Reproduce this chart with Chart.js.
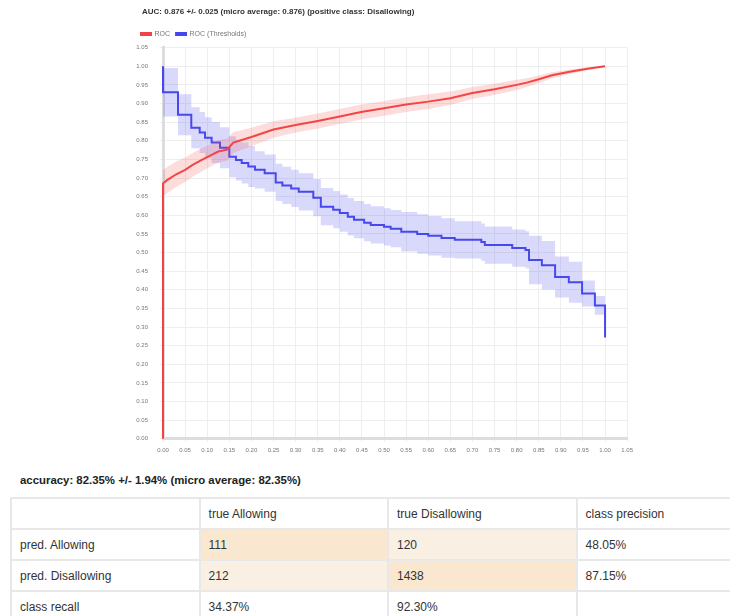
<!DOCTYPE html>
<html>
<head>
<meta charset="utf-8">
<script src="https://cdn.jsdelivr.net/npm/chart.js@4.4.0/dist/chart.umd.min.js"></script>
<style>
  body { margin: 0; background: #fff; width: 730px; height: 616px; overflow: hidden; font-family: "Liberation Sans", Arial, sans-serif; }
  #wrap { position: absolute; left: 130px; top: 0; width: 508px; height: 459px; }
  #acc { position: absolute; left: 20px; top: 474px; font-size: 11.4px; font-weight: bold; color: #222; }
  table { position: absolute; left: 10px; top: 497px; border-collapse: collapse; width: 756px; font-size: 12px; color: #333; }
  td { border: 2px solid #e8e8e8; height: 29px; padding: 0 0 0 8px; width: 180px; }
  .hi { background: #fae7cf; }
  .lo { background: #f9efe2; }
</style>
</head>
<body>
<div id="wrap"><canvas id="roc"></canvas></div>
<div id="acc">accuracy: 82.35% +/- 1.94% (micro average: 82.35%)</div>
<table id="cm"></table>
<script>
// ROC curve (mean) and its spread
const rocX = [0, 0, 0.01, 0.03, 0.05, 0.068, 0.09, 0.11, 0.125, 0.145, 0.159, 0.2, 0.25, 0.3, 0.35, 0.4, 0.448, 0.5, 0.55, 0.6, 0.65, 0.7, 0.75, 0.8, 0.823, 0.85, 0.88, 0.92, 0.96, 1.0]
const rocY = [0, 0.685, 0.695, 0.71, 0.722, 0.736, 0.75, 0.762, 0.771, 0.776, 0.795, 0.81, 0.83, 0.842, 0.853, 0.865, 0.877, 0.887, 0.897, 0.905, 0.914, 0.928, 0.938, 0.95, 0.956, 0.965, 0.976, 0.985, 0.993, 1.0]
const rocErr = [0, 0.035, 0.035, 0.034, 0.033, 0.032, 0.031, 0.03, 0.03, 0.03, 0.028, 0.025, 0.022, 0.02, 0.02, 0.02, 0.02, 0.02, 0.02, 0.02, 0.018, 0.016, 0.015, 0.014, 0.012, 0.01, 0.008, 0.006, 0.004, 0]

// ROC (Thresholds), step curve
const thrX = [0, 0, 0.034, 0.064, 0.083, 0.095, 0.11, 0.129, 0.15, 0.165, 0.178, 0.193, 0.208, 0.23, 0.255, 0.27, 0.29, 0.307, 0.34, 0.357, 0.385, 0.4, 0.418, 0.432, 0.455, 0.47, 0.5, 0.515, 0.539, 0.575, 0.6, 0.63, 0.66, 0.72, 0.728, 0.79, 0.82, 0.828, 0.857, 0.887, 0.918, 0.948, 0.977, 1.0, 1.0]
const thrY = [1.0, 0.93, 0.87, 0.835, 0.822, 0.808, 0.795, 0.781, 0.757, 0.748, 0.74, 0.731, 0.722, 0.713, 0.688, 0.68, 0.672, 0.663, 0.647, 0.623, 0.615, 0.606, 0.596, 0.588, 0.58, 0.574, 0.569, 0.564, 0.556, 0.55, 0.545, 0.539, 0.534, 0.528, 0.52, 0.512, 0.507, 0.48, 0.466, 0.434, 0.42, 0.39, 0.358, 0.358, 0.272]
const thrErr = [0.06, 0.065, 0.055, 0.055, 0.055, 0.055, 0.055, 0.055, 0.055, 0.055, 0.055, 0.055, 0.05, 0.05, 0.05, 0.05, 0.05, 0.05, 0.05, 0.05, 0.05, 0.05, 0.05, 0.05, 0.05, 0.05, 0.05, 0.05, 0.053, 0.053, 0.053, 0.053, 0.05, 0.05, 0.05, 0.05, 0.05, 0.065, 0.065, 0.055, 0.055, 0.035, 0.025, 0.025, 0]

const title = "AUC: 0.876 +/- 0.025 (micro average: 0.876) (positive class: Disallowing)"

// confusion matrix
const cmHeader = ["", "true Allowing", "true Disallowing", "class precision"]
const cmRows = ["pred. Allowing", "pred. Disallowing", "class recall"]
const cmCells = [["111", "120", "48.05%"], ["212", "1438", "87.15%"], ["34.37%", "92.30%", ""]]
const cmShade = [["hi", "lo", ""], ["lo", "hi", ""], ["", "", ""]]

function pts(xs, ys, off, sign) {
    return xs.map((x, i) => ({ x: x, y: ys[i] + (off ? sign * off[i] : 0) }))
}

const red = "rgb(245,65,65)"
const blue = "rgb(70,70,240)"
const band = { borderWidth: 1, borderColor: "transparent", pointRadius: 0 }

// nudge title and legend to the right, as in the original page
const shiftTop = {
    id: "shiftTop",
    afterLayout(chart) {
        chart.titleBlock.left += 12
        chart.titleBlock.right += 12
        chart.legend.left += 5
        chart.legend.right += 5
    }
}

new Chart(document.getElementById("roc"), {
    type: "line",
    plugins: [shiftTop],
    data: {
        datasets: [
            { ...band, label: "rocHi", data: pts(rocX, rocY, rocErr, 1), fill: false },
            { ...band, label: "rocLo", data: pts(rocX, rocY, rocErr, -1), fill: "-1", backgroundColor: "rgba(245,80,80,0.2)" },
            { label: "ROC", data: pts(rocX, rocY), borderColor: red, backgroundColor: red, borderWidth: 2, pointRadius: 0, fill: false, clip: 4 },
            { ...band, label: "thrHi", data: pts(thrX, thrY, thrErr, 1), fill: false, stepped: "before" },
            { ...band, label: "thrLo", data: pts(thrX, thrY, thrErr, -1), fill: "-1", stepped: "before", backgroundColor: "rgba(80,80,235,0.22)" },
            { label: "ROC (Thresholds)", data: pts(thrX, thrY), borderColor: blue, backgroundColor: blue, borderWidth: 2, pointRadius: 0, fill: false, stepped: "before", clip: 4 }
        ]
    },
    options: {
        responsive: true,
        maintainAspectRatio: false,
        animation: false,
        layout: { padding: { left: 0, right: 2, top: 0, bottom: 0 } },
        plugins: {
            title: {
                display: true, text: title, align: "start", color: "#333",
                font: { family: "Liberation Sans", size: 8, weight: "bold" },
                padding: { top: 7, bottom: 8 }
            },
            legend: {
                align: "start",
                labels: {
                    filter: (item) => item.text == "ROC" || item.text == "ROC (Thresholds)",
                    boxWidth: 10, boxHeight: 2, padding: 6, color: "#777",
                    font: { family: "Liberation Sans", size: 7 }
                }
            },
            tooltip: { enabled: false }
        },
        scales: {
            x: {
                type: "linear", min: 0, max: 1.05,
                ticks: { stepSize: 0.05, padding: 5, color: "#777", font: { family: "Liberation Sans", size: 6 }, callback: (v) => v.toFixed(2), maxRotation: 0, autoSkip: false },
                grid: { color: "#eeeeee", tickLength: 3 },
                border: { color: "#dddddd", width: 3 }
            },
            y: {
                min: 0, max: 1.05,
                ticks: { stepSize: 0.05, padding: 12, color: "#777", font: { family: "Liberation Sans", size: 6 }, callback: (v) => v.toFixed(2), autoSkip: false },
                grid: { color: "#eeeeee", tickLength: 3 },
                border: { color: "#dddddd", width: 3 },
                afterFit: (s) => { s.width = 33 }
            }
        }
    }
})

let html = "<tr>" + cmHeader.map(h => "<td>" + h + "</td>").join("") + "</tr>"
for (let i = 0; i < cmRows.length; i++) {
    html += "<tr><td>" + cmRows[i] + "</td>"
    for (let j = 0; j < cmCells[i].length; j++) {
        html += '<td class="' + cmShade[i][j] + '">' + cmCells[i][j] + "</td>"
    }
    html += "</tr>"
}
document.getElementById("cm").innerHTML = html
</script>
</body>
</html>
